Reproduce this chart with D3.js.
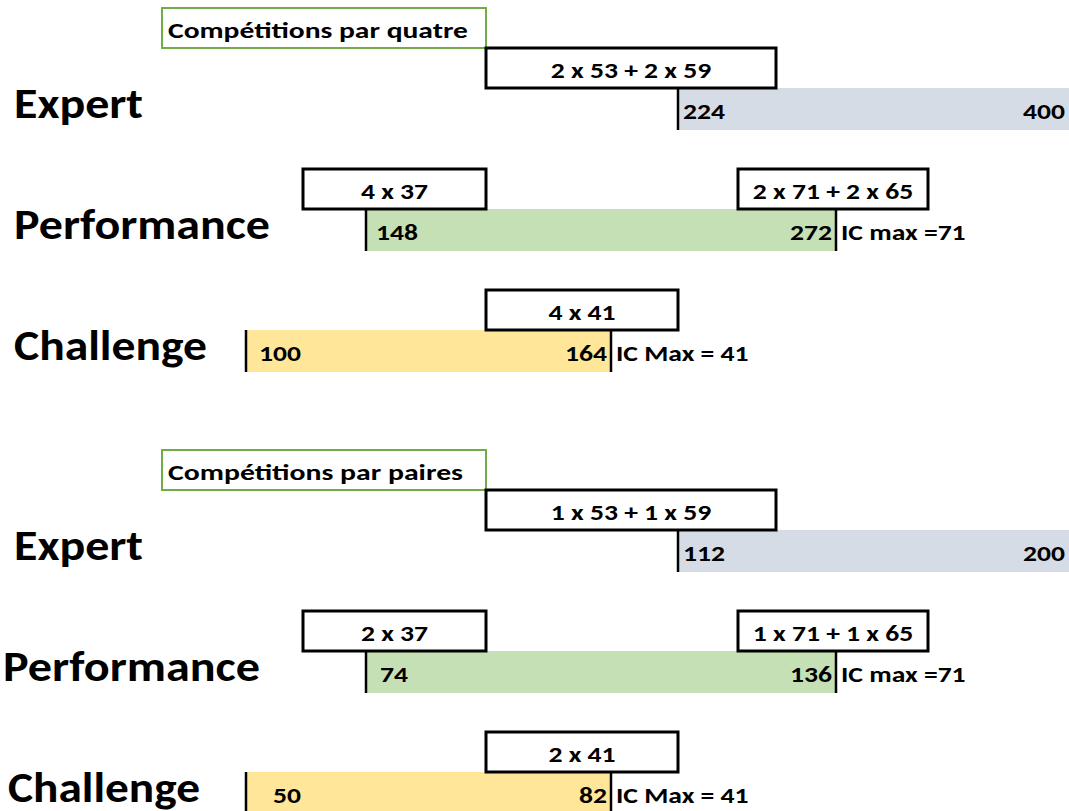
<!DOCTYPE html>
<html>
<head>
<meta charset="utf-8">
<script src="https://cdn.jsdelivr.net/npm/d3@7"></script>
<style>
    body { margin: 0; background: #fff; }
    text { font-family: Carlito, Calibri, Lato, "Open Sans", sans-serif; font-weight: bold; fill: #000; }
</style>
</head>
<body>
<svg id="chart"></svg>
<script>
// 数据：两个面板（四人赛 / 双人赛），每个面板三个级别
const panels = ["Compétitions par quatre", "Compétitions par paires"];
const categories = ["Expert", "Performance", "Challenge"];
const lowQuatre = [224, 148, 100];
const highQuatre = [400, 272, 164];
const lowPaires = [112, 74, 50];
const highPaires = [200, 136, 82];
const formulasQuatre = [["2 x 53 + 2 x 59"], ["4 x 37", "2 x 71 + 2 x 65"], ["4 x 41"]];
const formulasPaires = [["1 x 53 + 1 x 59"], ["2 x 37", "1 x 71 + 1 x 65"], ["2 x 41"]];
const icMax = [null, "IC max =71", "IC Max = 41"];

// 版面：类似表格的列边界（图不是按比例画的）
const width = 1069, height = 811;
const colEdges = [162, 246, 303, 366, 486, 611, 678, 738, 776, 836, 928, 1069];
const barCols = [[6, 11], [3, 9], [1, 5]]; // 每个条形的起止列
const boxCols = [[[4, 8]], [[2, 4], [7, 10]], [[4, 6]]]; // 公式方框的起止列
const titleCols = [0, 4];
const titleW = [300, 295];
const barColors = ["#d6dce5", "#c5e0b4", "#ffe699"];
const lowPad = [[5, 10, 13], [5, 14, 27]];
const labelX = [[14, 14, 14], [14, 3, 8]];
const labelW = [[129, 256, 193], [129, 257, 192]];
const small = 23, stretch = 1.2; // 小字号和水平拉伸

const svg = d3.select("#chart")
    .attr("width", width)
    .attr("height", height);

const col = d3.scaleLinear()
    .domain(d3.range(colEdges.length))
    .range(colEdges);

// 面板的垂直位置
const panelY = d3.scaleBand().domain(panels).range([0, 884]);
// 每个面板内部每一行的条形顶部位置
const rowY = d3.scaleBand().domain(categories).range([88, 451]);
const barH = 42, boxH = 40;

// 添加一个水平拉伸的文本
function addText(g, x, y, str, anchor = "start") {
    return g.append("text")
        .attr("transform", `translate(${x}, ${y}) scale(${stretch}, 1)`)
        .attr("text-anchor", anchor)
        .attr("font-size", small)
        .text(str);
}

const panelData = [
    { lows: lowQuatre, highs: highQuatre, formulas: formulasQuatre },
    { lows: lowPaires, highs: highPaires, formulas: formulasPaires }
];

panels.forEach((title, p) => {
    const d = panelData[p];
    // 分段线性比例尺：数值 -> 列边界
    const pairs = [];
    categories.forEach((c, i) => {
        pairs.push([d.lows[i], col(barCols[i][0])]);
        pairs.push([d.highs[i], col(barCols[i][1])]);
    });
    pairs.sort((a, b) => a[0] - b[0]);
    const x = d3.scaleLinear().domain(pairs.map(q => q[0])).range(pairs.map(q => q[1]));

    const g = svg.append("g").attr("transform", `translate(0, ${panelY(title)})`);

    // 标题框
    g.append("rect")
        .attr("x", col(titleCols[0])).attr("y", 8)
        .attr("width", col(titleCols[1]) - col(titleCols[0])).attr("height", 40)
        .attr("fill", "none").attr("stroke", "#70ad47").attr("stroke-width", 2);
    g.append("text")
        .attr("x", col(titleCols[0]) + 6).attr("y", 38)
        .attr("font-size", small)
        .attr("textLength", titleW[p])
        .attr("lengthAdjust", "spacingAndGlyphs")
        .text(title);

    categories.forEach((cat, i) => {
        const y0 = rowY(cat);
        const lo = d.lows[i], hi = d.highs[i];

        // 条形
        g.append("rect")
            .attr("x", x(lo)).attr("y", y0)
            .attr("width", x(hi) - x(lo)).attr("height", barH)
            .attr("fill", barColors[i]);

        // 竖线
        const edges = icMax[i] ? [lo, hi] : [lo];
        g.selectAll(null).data(edges).enter().append("line")
            .attr("x1", v => x(v)).attr("x2", v => x(v))
            .attr("y1", y0).attr("y2", y0 + barH)
            .attr("stroke", "#000").attr("stroke-width", 2.5);

        // 公式方框
        d.formulas[i].forEach((f, k) => {
            const [c0, c1] = boxCols[i][k];
            g.append("rect")
                .attr("x", col(c0)).attr("y", y0 - boxH)
                .attr("width", col(c1) - col(c0)).attr("height", boxH)
                .attr("fill", "#fff").attr("stroke", "#000").attr("stroke-width", 3);
            addText(g, (col(c0) + col(c1)) / 2, y0 - 10, f, "middle");
        });

        // 数值标签
        addText(g, x(lo) + lowPad[p][i], y0 + 31, lo);
        addText(g, x(hi) - 4, y0 + 31, hi, "end");
        if (icMax[i]) addText(g, x(hi) + 5, y0 + 31, icMax[i]);

        // 类别标签
        g.append("text")
            .attr("x", labelX[p][i]).attr("y", y0 + 30)
            .attr("font-size", 43)
            .attr("textLength", labelW[p][i])
            .attr("lengthAdjust", "spacingAndGlyphs")
            .text(cat);
    });
});
</script>
</body>
</html>
